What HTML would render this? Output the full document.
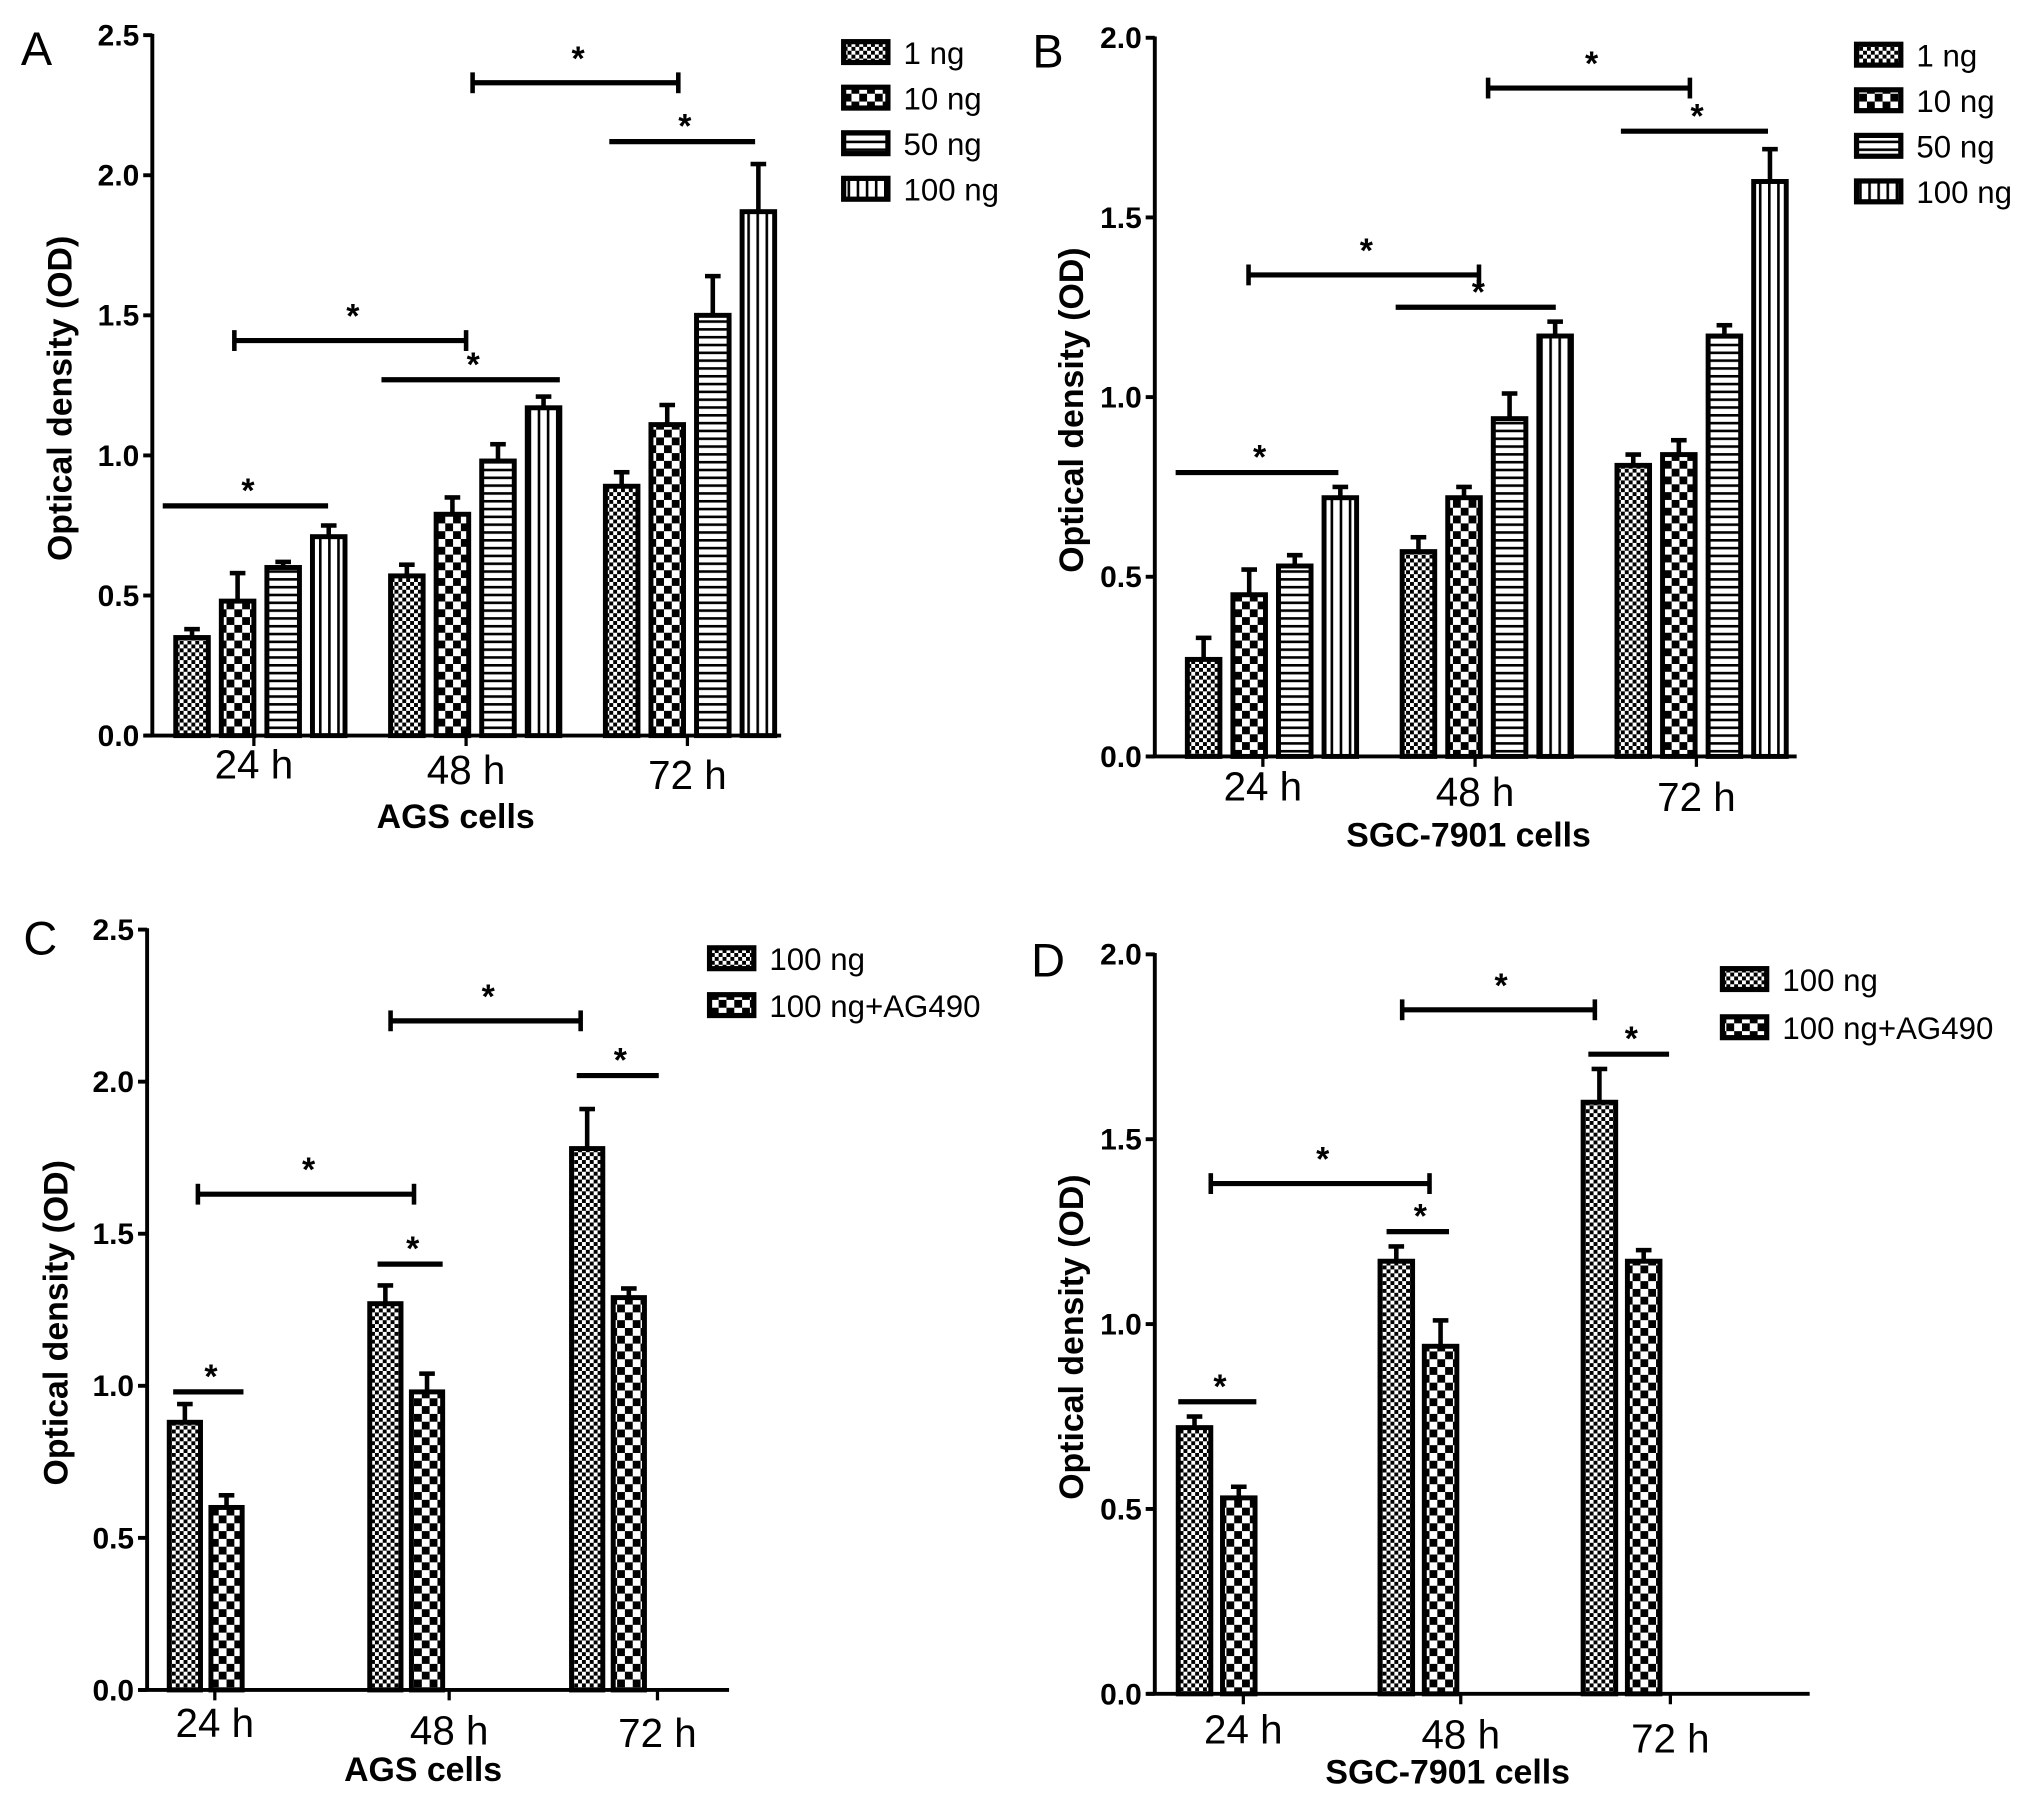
<!DOCTYPE html>
<html><head><meta charset="utf-8"><style>
html,body{margin:0;padding:0;background:#fff;}
svg{display:block;}
text{font-family:"Liberation Sans",Arial,sans-serif;fill:#000;}
</style></head><body>
<svg id="fig" width="2031" height="1798" viewBox="0 0 1560 1381" preserveAspectRatio="none" xmlns="http://www.w3.org/2000/svg">
<defs>
<pattern id="p0" width="6" height="6" patternUnits="userSpaceOnUse"><rect width="6" height="6" fill="#fff"/><rect width="3" height="3" fill="#000"/><rect x="3" y="3" width="3" height="3" fill="#000"/></pattern>
<pattern id="p1" width="12" height="12" patternUnits="userSpaceOnUse"><rect width="12" height="12" fill="#fff"/><rect width="6" height="6" fill="#000"/><rect x="6" y="6" width="6" height="6" fill="#000"/></pattern>
<pattern id="p2" width="6" height="6" patternUnits="userSpaceOnUse"><rect width="6" height="6" fill="#fff"/><rect width="6" height="2" fill="#000"/></pattern>
<pattern id="p3" width="7" height="7" patternUnits="userSpaceOnUse"><rect width="7" height="7" fill="#fff"/><rect width="2" height="7" fill="#000"/></pattern>
</defs>
</svg>
<script>
const NS="http://www.w3.org/2000/svg";
const svg=document.getElementById('fig');

const categories=["24 h","48 h","72 h"];
const seriesA=["1 ng","10 ng","50 ng","100 ng"];
const seriesCD=["100 ng","100 ng+AG490"];
const ticksA=[0,0.5,1.0,1.5,2.0,2.5];
const ticksB=[0,0.5,1.0,1.5,2.0];
const tickLabelsA=["0.0","0.5","1.0","1.5","2.0","2.5"];
const tickLabelsB=["0.0","0.5","1.0","1.5","2.0"];

const valuesA=[[0.35,0.48,0.60,0.71],[0.57,0.79,0.98,1.17],[0.89,1.11,1.50,1.87]];
const errorsA=[[0.03,0.10,0.02,0.04],[0.04,0.06,0.06,0.04],[0.05,0.07,0.14,0.17]];
const valuesB=[[0.27,0.45,0.53,0.72],[0.57,0.72,0.94,1.17],[0.81,0.84,1.17,1.60]];
const errorsB=[[0.06,0.07,0.03,0.03],[0.04,0.03,0.07,0.04],[0.03,0.04,0.03,0.09]];
const valuesC=[[0.88,0.60],[1.27,0.98],[1.78,1.29]];
const errorsC=[[0.06,0.04],[0.06,0.06],[0.13,0.03]];
const valuesD=[[0.72,0.53],[1.17,0.94],[1.60,1.17]];
const errorsD=[[0.03,0.03],[0.04,0.07],[0.09,0.03]];
const sigLevelsA=[0.82,1.41,1.27,2.33,2.12];
const sigLevelsB=[0.79,1.34,1.25,1.86,1.74];
const sigLevelsC=[0.98,1.63,1.40,2.20,2.02];
const sigLevelsD=[0.79,1.38,1.25,1.85,1.73];

function el(tag,attrs,parent){const e=document.createElementNS(NS,tag);for(const k in attrs)e.setAttribute(k,attrs[k]);(parent||svg).appendChild(e);return e;}
function txt(s,attrs,parent){const t=el('text',attrs,parent);t.textContent=s;return t;}

function panel(cfg){
  const g=el('g',{});
  
  
  const y=v=>cfg.y0-(v/cfg.ymax)*(cfg.y0-cfg.yTop);
  const xBar=(gi,si)=>cfg.starts[gi]+si*cfg.pitch;
  const lab=txt(cfg.id,{x:cfg.labX,y:cfg.labY,'font-size':36},g);
  
  
  cfg.values.forEach((grp,gi)=>grp.forEach((v,si)=>{
    const x=xBar(gi,si),top=y(v),et=y(v+cfg.errors[gi][si]),cx=x+cfg.bw/2;
    const ln=el('line',{x1:cx,x2:cx,y1:top,y2:et,stroke:'#000','stroke-width':3.5},g);
    
    
    el('line',{x1:cx-6,x2:cx+6,y1:et,y2:et,stroke:'#000','stroke-width':3.5},g);
    const r=el('rect',{x:x,y:top,width:cfg.bw,height:cfg.y0-top,fill:'url(#'+cfg.pats[si]+')',stroke:'#000','stroke-width':3.8},g);
    
    
  }));
  const ya=el('line',{x1:cfg.ax,x2:cfg.ax,y1:cfg.yTop-1,y2:cfg.y0+1,stroke:'#000','stroke-width':3},g);
  
  
  const xa=el('line',{x1:cfg.ax-6,x2:cfg.axEnd,y1:cfg.y0,y2:cfg.y0,stroke:'#000','stroke-width':3},g);
  
  
  cfg.ticks.forEach((t,i)=>{
    el('line',{x1:cfg.ax-7,x2:cfg.ax,y1:y(t),y2:y(t),stroke:'#000','stroke-width':3},g);
    const tl=txt(cfg.tickLabels[i],{x:cfg.ax-10,y:y(t)+8,'font-size':23,'font-weight':'bold','text-anchor':'end'},g);
    
    
  });
  categories.forEach((c,i)=>{
    const cx=cfg.catX[i];
    el('line',{x1:cx,x2:cx,y1:cfg.y0,y2:cfg.y0+8,stroke:'#000','stroke-width':2.5},g);
    const cl=txt(c,{x:cx,y:cfg.y0+cfg.catDy[i],'font-size':31,'text-anchor':'middle'},g);
    
    
  });
  const xt=txt(cfg.xTitle,{x:cfg.xTitleX,y:cfg.xTitleY,'font-size':26,'font-weight':'bold','text-anchor':'middle'},g);
  
  
  const yt=txt('Optical density  (OD)',{x:0,y:0,'font-size':26,'font-weight':'bold','text-anchor':'middle',transform:'translate('+cfg.yTitleX+','+((cfg.y0+cfg.yTop)/2+10)+') rotate(-90)'},g);
  
  
  cfg.sig.forEach((s,i)=>{
    const yy=y(cfg.sigLevels[i]);
    const l=el('line',{x1:s[0],x2:s[1],y1:yy,y2:yy,stroke:'#000','stroke-width':4},g);
    
    
    if(s[2]){el('line',{x1:s[0],x2:s[0],y1:yy-8,y2:yy+8,stroke:'#000','stroke-width':3.5},g);el('line',{x1:s[1],x2:s[1],y1:yy-8,y2:yy+8,stroke:'#000','stroke-width':3.5},g);}
    const st=txt('*',{x:(s[0]+s[1])/2+2,y:yy-(s[2]?10:3),'font-size':26,'font-weight':'bold','text-anchor':'middle'},g);
    
    
  });
  cfg.series.forEach((n,i)=>{
    const ly=cfg.legY+i*cfg.legStep;
    const lg=el('g',{},g);
    
    
    el('rect',{x:cfg.legX+2,y:ly-8,width:34,height:16,fill:'url(#'+cfg.pats[i]+')',stroke:'#000','stroke-width':4},lg);
    txt(n,{x:cfg.legX+48,y:ly+9,'font-size':24},lg);
  });
}

panel({id:'A',labX:16,labY:50,ax:117,axEnd:600,y0:565,yTop:27,ymax:2.5,ticks:ticksA,tickLabels:tickLabelsA,
  starts:[135,300,465],pitch:35,bw:25,values:valuesA,errors:errorsA,pats:['p0','p1','p2','p3'],
  catX:[195,358,528],catDy:[33,37,41],xTitle:'AGS cells',xTitleX:350,xTitleY:636,yTitleX:55,
  sig:[[125,252,0],[180,358,1],[293,430,0],[363,521,1],[468,580,0]],sigLevels:sigLevelsA,
  series:seriesA,legX:646,legY:40,legStep:35});
panel({id:'B',labX:793,labY:52,ax:887,axEnd:1380,y0:581,yTop:29,ymax:2.0,ticks:ticksB,tickLabels:tickLabelsB,
  starts:[912,1077,1242],pitch:35,bw:25,values:valuesB,errors:errorsB,pats:['p0','p1','p2','p3'],
  catX:[970,1133,1303],catDy:[34,38,42],xTitle:'SGC-7901 cells',xTitleX:1128,xTitleY:650,yTitleX:832,
  sig:[[903,1028,0],[959,1136,1],[1072,1195,0],[1143,1298,1],[1245,1358,0]],sigLevels:sigLevelsB,
  series:seriesA,legX:1424,legY:42,legStep:35});
panel({id:'C',labX:18,labY:733,ax:113,axEnd:560,y0:1298,yTop:714,ymax:2.5,ticks:ticksA,tickLabels:tickLabelsA,
  starts:[130,284,439],pitch:32,bw:24,values:valuesC,errors:errorsC,pats:['p0','p1'],
  catX:[165,345,505],catDy:[36,42,44],xTitle:'AGS cells',xTitleX:325,xTitleY:1368,yTitleX:52,
  sig:[[133,187,0],[152,318,1],[290,340,0],[300,446,1],[443,506,0]],sigLevels:sigLevelsC,
  series:seriesCD,legX:543,legY:736,legStep:36});
panel({id:'D',labX:792,labY:750,ax:887,axEnd:1390,y0:1301,yTop:733,ymax:2.0,ticks:ticksB,tickLabels:tickLabelsB,
  starts:[905,1060,1216],pitch:34,bw:25,values:valuesD,errors:errorsD,pats:['p0','p1'],
  catX:[955,1122,1283],catDy:[38,42,45],xTitle:'SGC-7901 cells',xTitleX:1112,xTitleY:1370,yTitleX:832,
  sig:[[905,965,0],[930,1098,1],[1065,1113,0],[1077,1225,1],[1220,1282,0]],sigLevels:sigLevelsD,
  series:seriesCD,legX:1321,legY:752,legStep:37});
</script>
</body></html>
